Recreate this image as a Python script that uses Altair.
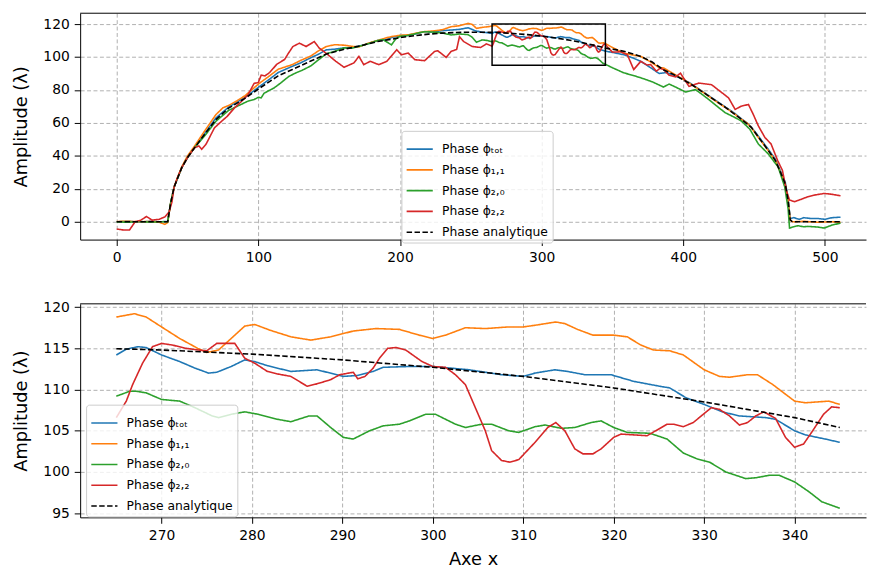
import altair as alt
import pandas as pd

# ---------------- data ----------------
series_names = ["Phase ϕₜₒₜ", "Phase ϕ₁,₁", "Phase ϕ₂,₀", "Phase ϕ₂,₂", "Phase analytique"]
series_colors = ["#1f77b4", "#ff7f0e", "#2ca02c", "#d62728", "#000000"]

# Phase tot
tot_left = [(0, 0), (8, 0.3), (16, -0.2), (24, 0.3), (30, 0), (36, 0.2), (38, 11), (40.5, 21), (43, 26.5),
            (46, 33), (50, 39), (55, 45), (62, 53.5), (70, 63), (79, 69.6), (90.7, 75.6), (100, 81.6),
            (107, 86), (114, 90.6), (124, 94.4), (130, 96.5), (137, 99.6), (142, 101.5), (148, 104.4),
            (154, 104.8), (160.6, 105.6), (166, 105.8), (171, 106.6), (178, 108.2), (184, 110), (190, 110.6),
            (194, 111.8), (200, 113), (206, 113.2), (210, 113.8), (217, 115.4), (223, 115.2), (230, 116),
            (236, 116.4), (242, 116.8), (248, 117.8), (253, 116), (258, 115), (262, 114.8)]
tot_zoom = [(265, 114.2), (266.1, 114.9), (267.4, 115.2), (268.3, 115.1), (270, 114.2), (272, 113.4),
            (273.7, 112.6), (275.2, 112), (276.1, 112.1), (277.7, 112.8), (279.2, 113.6), (280.3, 113.4),
            (281.7, 112.9), (284.3, 112.2), (287.2, 112.4), (290.1, 111.6), (291.6, 111.7), (293.4, 112.2),
            (294.5, 112.7), (297.4, 112.8), (300, 112.8), (302, 112.6), (304, 112.4), (307.6, 111.8),
            (310, 111.6), (311.3, 112), (313.5, 112.4), (314.9, 112.2), (316.8, 111.8), (319.7, 111.8),
            (322.2, 111), (325.1, 110.4), (326.2, 110.2), (328, 109), (330, 108.2), (332, 107.3),
            (333.9, 106.8), (336.8, 106.6), (337.9, 106.4), (340, 105), (341.2, 104.5), (343.4, 104),
            (345, 103.6)]
tot_right = [(350, 102.8), (358, 101.4), (364, 99.6), (370, 97.4), (377, 93.5), (383, 90), (388, 90.6),
             (393, 89), (400, 86.5), (406, 83.5), (412, 80), (418, 76.5), (424, 73), (430, 69.5), (436, 66),
             (441, 62.5), (445, 60), (448, 57.5), (453, 52), (460, 44), (465, 38), (469, 30), (472, 24),
             (474, 14), (475.5, 2), (478, 2.5), (482, 1.5), (485, 2.5), (490, 2), (495, 2), (500, 1.5),
             (505, 2.5), (511, 2.8)]

# Phase 1,1
p11_left = [(0, 0.2), (8, 0.3), (16, 0), (24, 0.2), (30, -0.3), (34, -1.5), (36, -0.5), (38, 11), (40.5, 21),
            (43, 27), (46, 33.5), (50, 40), (55, 46), (62, 55), (70, 65), (75, 69.2), (79, 70.6), (85, 73.5),
            (90.7, 76.6), (100, 83.6), (107, 88), (114, 92.6), (119, 94), (124, 95.4), (130, 98), (137, 100.6),
            (142, 103.5), (148, 106.4), (154, 107.5), (160.6, 107.2), (166, 106.5), (171, 106.2), (178, 108.5),
            (184, 110), (190, 111.6), (194, 112.4), (200, 113.2), (206, 113.5), (212, 114.6), (217, 115.4),
            (223, 115.8), (230, 116.6), (236, 118.4), (242, 119), (248, 120.4), (251, 119.8), (254, 117.4),
            (258, 118), (262, 118.4)]
p11_zoom = [(265, 118.8), (267, 119.2), (268.3, 118.8), (270, 117.6), (272, 116.2), (274, 115), (275, 114.5),
            (276.3, 114.8), (277.7, 116.2), (279.2, 117.7), (280.3, 117.9), (282, 117.2), (284.3, 116.4),
            (286.5, 116), (288.7, 116.4), (291.2, 117.1), (293.7, 117.4), (296.3, 117.3), (298.5, 116.6),
            (300, 116.2), (301.4, 116.6), (303.6, 117.5), (305.8, 117.4), (308.4, 117.6), (310, 117.6),
            (311.3, 117.8), (313.6, 118.2), (314.6, 118), (316, 117.3), (317.7, 116.6), (320, 116.6),
            (321.5, 116.4), (323, 115.4), (324.4, 114.8), (326.2, 114.7), (327.7, 114.2), (330, 112.4),
            (331.7, 111.6), (332.8, 111.5), (334.8, 111.8), (335.9, 111.8), (337.6, 110.6), (340, 108.6),
            (341.2, 108.4), (343.8, 108.6), (345, 108.2)]
p11_right = [(350, 105.8), (358, 102.4), (364, 101.3), (370, 100.4), (377, 97), (383, 93.6), (386, 93.4),
             (393, 90), (400, 86.5), (406, 83.2), (412, 79.8), (418, 76.2), (424, 72.6), (430, 69.2),
             (436, 65.6), (441, 62.2), (445, 60), (448, 57.2), (453, 51.2), (460, 43.2), (465, 37.2),
             (469, 29.2), (472, 23), (474, 13), (475.5, 1), (477, 0), (485, 0.3), (495, -0.3), (505, 0),
             (511, -0.3)]

# Phase 2,0
p20_left = [(0, 0), (8, -0.3), (16, 0.2), (24, -0.2), (30, 0), (36, 0), (38, 11), (40.5, 21), (43, 26.5),
            (46, 33), (50, 39), (55, 45), (62, 52), (70, 61), (79, 67.6), (86, 70.5), (92.6, 73.2), (97, 74.2),
            (100, 75.6), (102, 75.2), (104, 78), (106.5, 79.2), (111, 81.2), (115.7, 84.2), (121.5, 88.2),
            (126, 90.2), (131, 92), (137, 94.6), (142, 98), (148, 102), (154, 103.5), (160.6, 105.6),
            (166, 105.4), (171, 106.4), (178, 108.2), (184, 110), (188, 110.6), (191, 109), (194, 107.4),
            (197, 111), (200, 112.6), (205, 113), (210, 114), (217, 115.4), (223, 115.2), (230, 114.6),
            (236, 113.4), (242, 114), (248, 113.6), (251, 112), (254, 109), (258, 110.4), (262, 110)]
p20_zoom = [(265, 109.2), (266.5, 109.8), (267.2, 109.8), (268.3, 109.6), (270, 108.8), (272, 108.6),
            (273.7, 107.8), (275.6, 106.8), (276.3, 106.6), (277.7, 107), (279.2, 107.3), (280.7, 107),
            (282.8, 106.4), (284.3, 106.1), (286.3, 106.8), (287.2, 106.8), (288.7, 105.4), (290.1, 104.2),
            (291.2, 104), (293, 105), (294.5, 105.6), (296.3, 105.8), (297.4, 106.2), (299.2, 107),
            (300.3, 107), (302.5, 105.8), (303.6, 105.4), (305.4, 105.8), (306.5, 105.8), (308.4, 105),
            (309.5, 104.8), (311.3, 105.5), (312.4, 105.7), (314.2, 105.3), (315.7, 105.4), (317.5, 106),
            (318.6, 106.2), (320, 105.4), (321.5, 104.8), (324, 104.7), (325.9, 104), (327.7, 102.3),
            (329.2, 101.6), (330.6, 101.2), (332.4, 100), (334.6, 99.2), (335.7, 99.3), (337.2, 99.6),
            (338.3, 99.6), (340, 98.8), (341.6, 97.6), (343, 96.4), (345, 95.6)]
p20_right = [(350, 93.5), (358, 90.4), (364, 89), (370, 87.4), (378, 85), (386, 81.8), (390, 83.6), (394, 82),
             (401.6, 78.8), (408.6, 80.2), (413, 77.5), (418, 74.2), (424, 70), (429.6, 66.2), (436, 63.5),
             (441, 61.2), (447, 56.2), (453, 47.2), (460, 41.2), (467, 33.2), (471.6, 21.2), (474, 8),
             (475, -3.8), (478, -3), (481, -2.4), (485, -3), (488, -2.8), (495, -3.2), (499.5, -3.8),
             (505, -2), (511, -0.8)]

# Phase 2,2
p22_left = [(0, -4.4), (5, -5), (9, -5), (13, 0), (17, 1), (21, 3.2), (25, 1), (30, 1.5), (34, 3), (37, 6),
            (39, 12), (40.5, 21), (43, 27), (46, 33), (50, 39), (55, 45), (58, 46), (60, 44), (63, 47),
            (66, 52), (69, 57), (74, 61), (78, 64), (83, 69), (88, 73), (92.6, 77), (97, 84), (100, 84.6),
            (102, 89), (104.7, 88.6), (108, 90.6), (113, 95.6), (118.6, 98.6), (121, 102), (124.4, 106.4),
            (129, 108.4), (133.7, 106.4), (139.5, 109.4), (143, 105.4), (147.7, 102.4), (154.7, 97.4),
            (160.5, 93.8), (167.4, 96.4), (171, 100.4), (174.4, 95.4), (179, 97.4), (185, 95.4),
            (190.7, 97.4), (197.7, 104.4), (201, 101.4), (205.8, 102.4), (210.5, 98.4), (217.4, 97.8),
            (224.4, 103.4), (226.7, 103.8), (232.6, 99.8), (236, 103.4), (240, 104.6), (242, 112.4),
            (245, 109.4), (251, 106.4), (257, 105.8), (261, 108)]
p22_zoom = [(265, 106.6), (266.1, 108.6), (266.8, 110.6), (267.9, 113.2), (269, 115.2), (270, 115.6),
            (271.2, 115.4), (272.7, 115), (274.1, 114.8), (275, 114.7), (276.1, 115.6), (278.1, 115.6),
            (279.2, 113.8), (280.3, 113.2), (281.7, 112.2), (282.8, 111.9), (284.3, 111.6), (286.1, 110.4),
            (287.2, 110.7), (288.7, 111.2), (289.7, 111.8), (291.2, 112.1), (291.7, 111.3), (292.5, 111.6),
            (293.4, 112.6), (294.1, 113.8), (295, 115), (295.9, 115.1), (297, 114.8), (298.8, 113.4),
            (300, 112.8), (301.4, 112.7), (302.5, 111.8), (303.6, 110.6), (304.7, 107.8), (305.8, 105),
            (306.5, 102.6), (307.6, 101.4), (308.5, 101.2), (309.5, 101.5), (311.3, 103.6), (312.7, 105.4),
            (313.6, 106), (314.6, 105), (315.7, 102.8), (316.6, 102.2), (317.7, 102.2), (318.6, 102.8),
            (320, 104.2), (320.8, 104.6), (323.7, 104.4), (325.9, 105.8), (326.6, 105.8), (327.7, 105.5),
            (328.8, 106), (329.9, 107), (330.8, 107.8), (331.7, 107.6), (332.8, 106.8), (333.9, 105.7),
            (334.8, 106), (335.7, 106.8), (336.6, 107.3), (337.9, 106.5), (339, 104.2), (340, 103),
            (341, 103.4), (342, 105), (343.2, 107), (344.1, 107.9), (345, 107.8)]
p22_right = [(346.5, 106), (350, 103), (355.7, 103.2), (360.5, 101.4), (365, 92.4), (370, 97.4), (374.3, 95.2),
             (377, 95.4), (381, 91.4), (383.6, 93.2), (386, 92.4), (390, 89), (394.6, 88), (398, 90.2),
             (404, 82.2), (411, 84.2), (420, 83.2), (426, 79.2), (432, 75.2), (436.6, 68.2), (441, 70.2),
             (446, 71.2), (449.4, 65.2), (453, 58.2), (457.6, 51.2), (462, 47.2), (466.6, 37.2), (470, 31.2),
             (472.7, 19.2), (475, 13.2), (478.6, 12.2), (483, 13.6), (488, 15.2), (492.5, 16.2), (499.5, 17.2),
             (504, 16.8), (511, 15.8)]

# Phase analytique
ana_pts = [(0, 0), (36, 0), (38, 11), (40.5, 21), (43, 26.5), (46, 33), (50, 39), (55, 45), (62, 53), (70, 62),
           (79, 69), (90, 74.6), (100, 80.6), (114, 88.6), (124, 92.4), (137, 97.6), (148, 101.8), (160, 104.6),
           (172, 106.8), (184, 109.4), (194, 110.8), (200, 111.8), (210, 112.9), (220, 113.9), (230, 114.5),
           (240, 114.9), (250, 115.1), (258, 115.1), (265, 114.96), (270, 114.8), (280, 114.3), (290, 113.6),
           (300, 112.7), (310, 111.6), (320, 110.2), (330, 108.5), (340, 106.6), (345, 105.4), (352, 104.5),
           (358, 103.5), (364, 102), (370, 100.4), (378, 97), (386, 92.3), (393, 89.5), (400, 86.2), (406, 83.2),
           (418, 76.3), (430, 69.3), (441, 62.3), (448, 57.3), (453, 51.5), (460, 43.3), (465, 37.2), (469, 29.3),
           (472, 23), (474, 13), (475.5, 1.2), (477, 0), (511, 0)]

# zoom box drawn on the top panel (= range shown in the lower panel)
box_x = [265, 345]
box_y = [95, 120]

# axis ticks
top_xticks = [0, 100, 200, 300, 400, 500]
top_yticks = [0, 20, 40, 60, 80, 100, 120]
bot_xticks = [270, 280, 290, 300, 310, 320, 330, 340]
bot_yticks = [95, 100, 105, 110, 115, 120]

# ---------------- table ----------------
rows = []
all_series = [tot_left + tot_zoom + tot_right,
              p11_left + p11_zoom + p11_right,
              p20_left + p20_zoom + p20_right,
              p22_left + p22_zoom + p22_right,
              ana_pts]
for name, pts in zip(series_names, all_series):
    for xv, yv in pts:
        rows.append({"series": name, "x": xv, "y": yv})
df = pd.DataFrame(rows)
box_df = pd.DataFrame({"x": [box_x[0]], "x2": [box_x[1]], "y": [box_y[0]], "y2": [box_y[1]]})

FONT = "DejaVu Sans"
W = 795
H_TOP = 229
H_BOT = 216
YTITLE = "Amplitude  (λ)"


def legend(lx, ly):
    return alt.Legend(orient="none", legendX=lx, legendY=ly, title=None,
                      symbolType="stroke", symbolSize=700, symbolStrokeWidth=1.6,
                      labelFont=FONT, labelFontSize=12.5, labelColor="black",
                      fillColor="rgba(255,255,255,0.8)", strokeColor="#cccccc",
                      cornerRadius=3, padding=4, rowPadding=-1, labelOffset=8)


def xenc(field, dom, ticks, title):
    return alt.X(field, scale=alt.Scale(domain=dom, nice=False, zero=False),
                 axis=alt.Axis(values=ticks, title=title, labelFlush=False, labelOverlap=False))


def yenc(field, dom, ticks):
    return alt.Y(field, scale=alt.Scale(domain=dom, nice=False, zero=False),
                 axis=alt.Axis(values=ticks, title=YTITLE, labelFlush=False, labelOverlap=False))


def line_layer(data, lx, ly, xdom, ydom, xticks, yticks, xtitle):
    return alt.Chart(data).mark_line(clip=True, strokeWidth=1.6).encode(
        x=xenc("x:Q", xdom, xticks, xtitle),
        y=yenc("y:Q", ydom, yticks),
        color=alt.Color("series:N", sort=series_names,
                        scale=alt.Scale(domain=series_names, range=series_colors),
                        legend=legend(lx, ly)),
        strokeDash=alt.StrokeDash("series:N", sort=series_names,
                                  scale=alt.Scale(domain=series_names,
                                                  range=[[1, 0], [1, 0], [1, 0], [1, 0], [5.5, 2.5]]),
                                  legend=legend(lx, ly)),
        detail="series:N",
    )


def top_border(width):
    return alt.Chart(alt.Data(values=[{}])).mark_rule(color="black", strokeWidth=1).encode(
        x=alt.value(0), x2=alt.value(width), y=alt.value(0))


TOP_XDOM = [-25.8, 529]
TOP_YDOM = [-10.8, 126.6]
top_lines = line_layer(df, 325, 119, TOP_XDOM, TOP_YDOM, top_xticks, top_yticks, None)
box = alt.Chart(box_df).mark_rect(fillOpacity=0, stroke="black", strokeWidth=1.5).encode(
    x=xenc("x:Q", TOP_XDOM, top_xticks, None), x2="x2:Q",
    y=yenc("y:Q", TOP_YDOM, top_yticks), y2="y2:Q")
top = alt.layer(top_lines, box, top_border(W)).properties(width=W, height=H_TOP)

bot_df = df[(df["x"] >= box_x[0]) & (df["x"] <= box_x[1])]
bot_lines = line_layer(bot_df, 6, 102, [261, 347.9], [94.5, 120.4], bot_xticks, bot_yticks, "Axe x")
bot = alt.layer(bot_lines, top_border(W)).properties(width=W, height=H_BOT)

chart = alt.vconcat(top, bot, spacing=36).resolve_scale(
    color="independent", strokeDash="independent"
).resolve_legend(
    color="independent", strokeDash="independent"
).properties(
    padding={"left": 4, "top": 1, "right": 0, "bottom": 0}
).configure_view(stroke=None).configure_axis(
    labelFont=FONT, titleFont=FONT, labelFontSize=14, titleFontSize=18, titleFontWeight="normal",
    labelColor="black", titleColor="black", tickColor="black", domainColor="black",
    tickSize=6, domainWidth=1, tickWidth=1, labelPadding=5,
    gridColor="#b0b0b0", gridDash=[4, 2.5], gridWidth=1,
).configure_axisY(titlePadding=13).configure_axisX(titlePadding=9)

chart.save("out.html", embed_options={"renderer": "svg", "actions": False})
